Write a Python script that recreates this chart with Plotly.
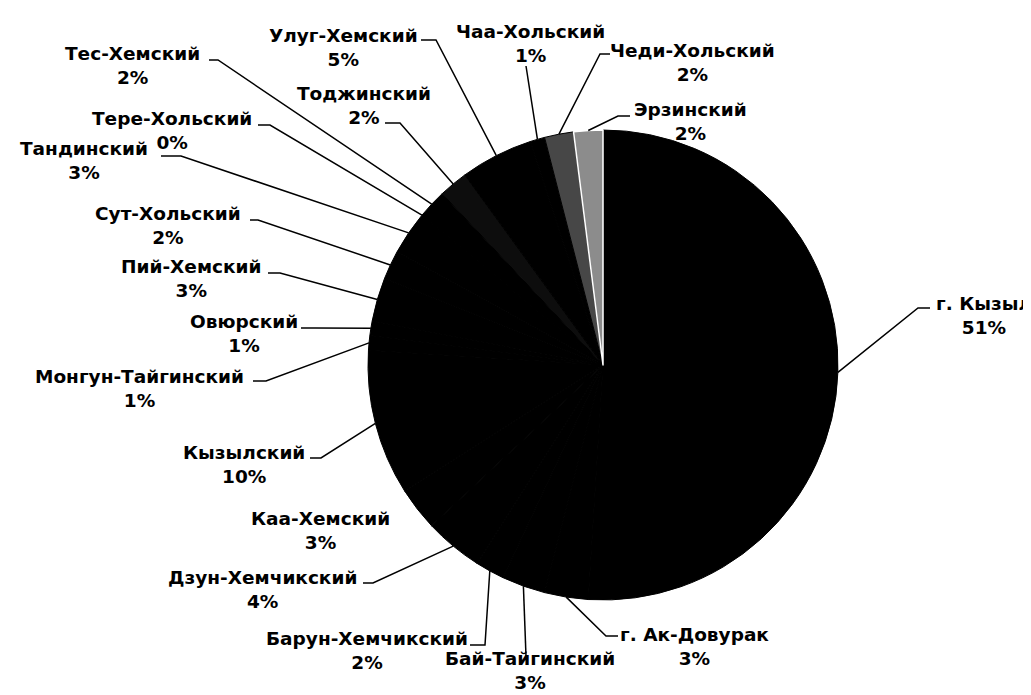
import math
import plotly.graph_objects as go

# ---- data ----
districts = ["г. Кызыл", "г. Ак-Довурак", "Бай-Тайгинский", "Барун-Хемчикский",
             "Дзун-Хемчикский", "Каа-Хемский", "Кызылский", "Монгун-Тайгинский",
             "Овюрский", "Пий-Хемский", "Сут-Хольский", "Тандинский", "Тере-Хольский",
             "Тес-Хемский", "Тоджинский", "Улуг-Хемский", "Чаа-Хольский",
             "Чеди-Хольский", "Эрзинский"]
shares = [51, 3, 3, 2, 4, 3, 10, 1, 1, 3, 2, 3, 0, 2, 2, 5, 1, 2, 2]

# ---- style / layout ----
W, H = 1031, 695
CX, CY, R = 595, 357, 235          # pie centre and radius in pixels
FONT = dict(family="DejaVu Sans", size=18.5, color="black", weight="bold")

slice_colors = ["#000000"] * len(districts)
slice_colors[districts.index("Чеди-Хольский")] = "#474747"
slice_colors[districts.index("Эрзинский")] = "#8c8c8c"
slice_colors[districts.index("Тоджинский")] = "#0d0d0d"
line_colors = ["#000000"] * len(districts)
line_widths = [1] * len(districts)
line_colors[districts.index("Эрзинский")] = "#ffffff"
line_widths[districts.index("Эрзинский")] = 1.5

# label block centres (pixels)
label_pos = {
    "г. Кызыл": (976, 307), "г. Ак-Довурак": (686, 638), "Бай-Тайгинский": (522, 662),
    "Барун-Хемчикский": (359, 642), "Дзун-Хемчикский": (254, 581),
    "Каа-Хемский": (312, 522), "Кызылский": (236, 456), "Монгун-Тайгинский": (131, 380),
    "Овюрский": (236, 325), "Пий-Хемский": (183, 271), "Сут-Хольский": (160, 217),
    "Тандинский": (76, 152), "Тере-Хольский": (164, 122), "Тес-Хемский": (124, 58),
    "Тоджинский": (356, 97), "Улуг-Хемский": (335, 40), "Чаа-Хольский": (522, 35),
    "Чеди-Хольский": (684, 55), "Эрзинский": (682, 114),
}
# leader start points near the label (pixels); None = no leader
leader_start = {
    "г. Кызыл": [(922, 300), (910, 300)], "г. Ак-Довурак": [(610, 628), (598, 628)],
    "Бай-Тайгинский": [(518, 648)], "Барун-Хемчикский": [(462, 637), (477, 637)],
    "Дзун-Хемчикский": [(355, 575), (365, 575)], "Каа-Хемский": None,
    "Кызылский": [(302, 450), (313, 450)], "Монгун-Тайгинский": [(245, 373), (258, 373)],
    "Овюрский": [(293, 320), (307, 320)], "Пий-Хемский": [(260, 265), (272, 265)],
    "Сут-Хольский": [(242, 212), (250, 212)], "Тандинский": [(153, 148), (173, 148)],
    "Тере-Хольский": [(250, 117), (262, 117)], "Тес-Хемский": [(201, 52), (210, 52)],
    "Тоджинский": [(377, 115), (392, 115)], "Улуг-Хемский": [(413, 32), (428, 32)],
    "Чаа-Хольский": [(518, 58)], "Чеди-Хольский": [(602, 46), (592, 46)],
    "Эрзинский": [(622, 108), (610, 108)],
}


def px(x):
    return x / W


def py(y):
    return 1 - y / H


fig = go.Figure(go.Pie(
    labels=districts, values=shares, sort=False, direction="clockwise", rotation=0,
    textinfo="none", hoverinfo="label+percent",
    marker=dict(colors=slice_colors, line=dict(color=line_colors, width=line_widths)),
    domain=dict(x=[px(CX - R), px(CX + R)], y=[py(CY + R), py(CY - R)]),
    showlegend=False,
))

total = sum(shares)
shapes, annotations = [], []
cum = 0
for name, v in zip(districts, shares):
    phi = 2 * math.pi * (cum + v / 2) / total
    cum += v
    ex, ey = CX + R * math.sin(phi), CY - R * math.cos(phi)
    lx, ly = label_pos[name]
    annotations.append(dict(
        x=px(lx), y=py(ly), xref="paper", yref="paper", showarrow=False,
        text=f"{name}<br>{v}%", font=FONT, align="center",
        xanchor="center", yanchor="middle"))
    pts = leader_start[name]
    if pts:
        path = "M " + " L ".join(f"{px(a)} {py(b)}" for a, b in pts + [(ex, ey)])
        shapes.append(dict(type="path", path=path, xref="paper", yref="paper",
                           line=dict(color="black", width=1.5)))

fig.update_layout(
    width=W, height=H, margin=dict(l=0, r=0, t=0, b=0),
    paper_bgcolor="white", plot_bgcolor="white",
    shapes=shapes, annotations=annotations,
)
fig.write_html("out.html")
